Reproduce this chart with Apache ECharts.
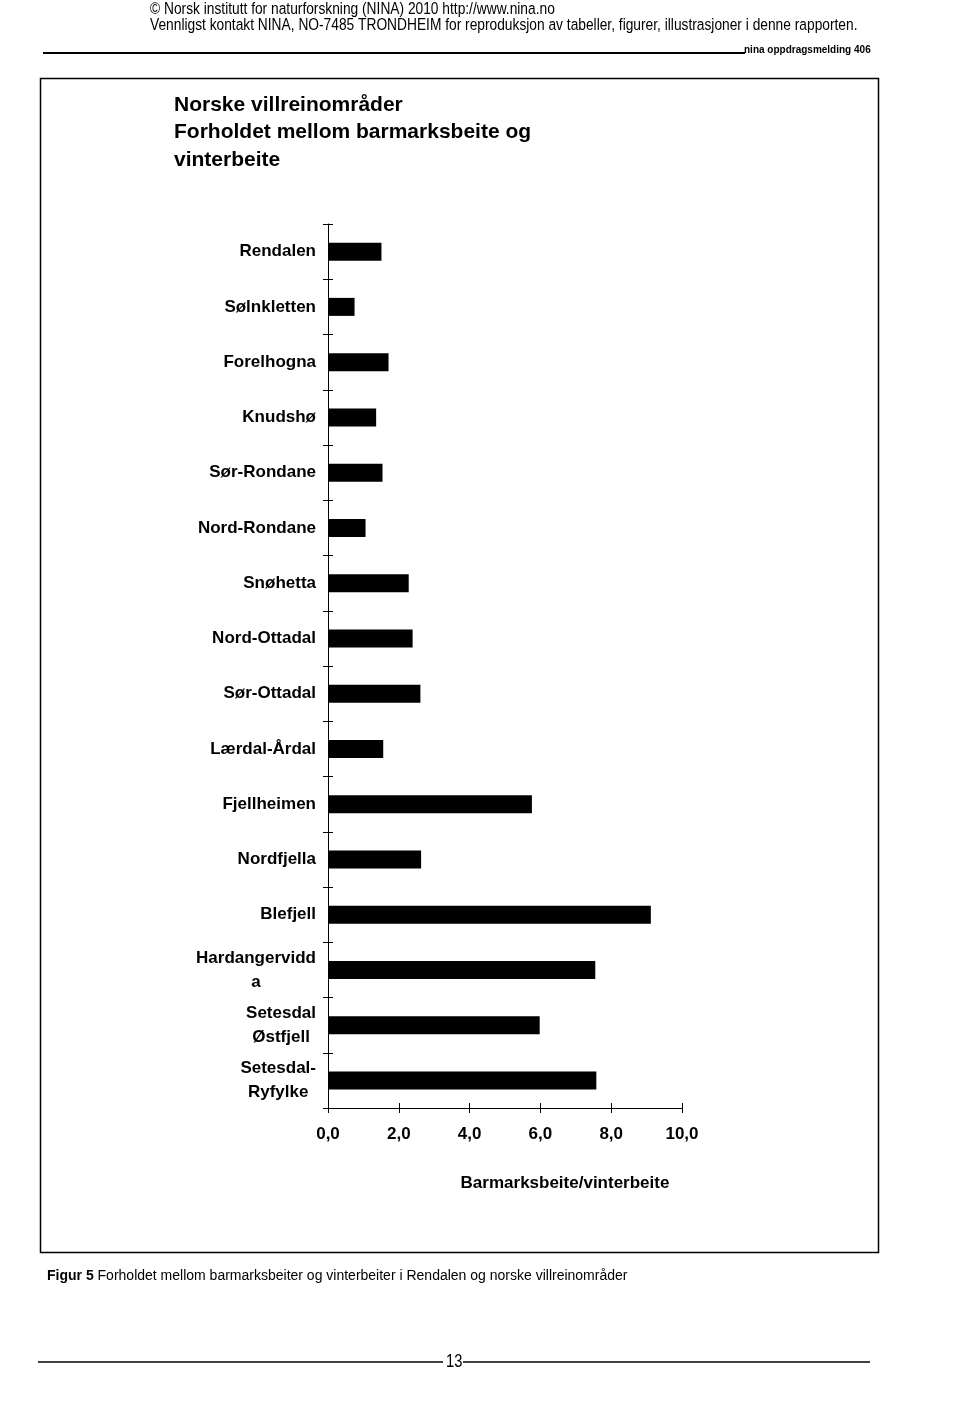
<!DOCTYPE html>
<html><head><meta charset="utf-8">
<script src="https://cdn.jsdelivr.net/npm/echarts@6/dist/echarts.min.js"></script>
<style>html,body{margin:0;padding:0;background:#fff}#c{width:960px;height:1407px}</style>
</head><body><div id="c"></div>
<script>
// Categories (as printed, with the original line breaks)
const categories = ['Rendalen','Sølnkletten','Forelhogna','Knudshø','Sør-Rondane','Nord-Rondane','Snøhetta','Nord-Ottadal','Sør-Ottadal','Lærdal-Årdal','Fjellheimen','Nordfjella','Blefjell','Hardangervidd\na','Setesdal\nØstfjell','Setesdal-\nRyfylke'];
// Barmarksbeite/vinterbeite ratio
const ratios = [1.51,0.75,1.71,1.36,1.54,1.06,2.28,2.39,2.61,1.56,5.76,2.63,9.12,7.55,5.98,7.58];
const xMin = 0, xMax = 10, xStep = 2;

const titleText = 'Norske villreinområder\nForholdet mellom barmarksbeite og\nvinterbeite';
const xName = 'Barmarksbeite/vinterbeite';
const header1 = '© Norsk institutt for naturforskning (NINA) 2010 http://www.nina.no';
const header2 = 'Vennligst kontakt NINA, NO-7485 TRONDHEIM for reproduksjon av tabeller, figurer, illustrasjoner i denne rapporten.';
const headerRight = 'nina oppdragsmelding 406';
const captionBold = 'Figur 5';
const captionText = ' Forholdet mellom barmarksbeiter og vinterbeiter i Rendalen og norske villreinområder';
const pageNo = '13';

const FONT = '"Liberation Sans", Arial, sans-serif';

const chart = echarts.init(document.getElementById('c'), null, {renderer: 'canvas'});

const catLabel = {
  show: true, margin: 12, color: '#000', fontFamily: FONT, fontWeight: 'bold', fontSize: 17,
  align: 'right',
  formatter: function (v) {
    if (v.indexOf('\n') < 0) return v;
    return v.split('\n').map(function (s) { return '{c|' + s + '}'; }).join('\n');
  },
  rich: { c: { align: 'center', color: '#000', fontFamily: FONT, fontWeight: 'bold', fontSize: 17, lineHeight: 24 } }
};

const option = {
  backgroundColor: '#fff',
  animation: false,
  title: {
    text: titleText, left: 174, top: 91, padding: 0,
    textStyle: { fontFamily: FONT, fontWeight: 'bold', fontSize: 21, lineHeight: 27.5, color: '#000' }
  },
  grid: { left: 328, right: 278, top: 224, bottom: 299, containLabel: false },
  xAxis: [{
    type: 'value', min: xMin, max: xMax, interval: xStep, position: 'bottom',
    name: xName, nameLocation: 'middle', nameGap: 67,
    nameTextStyle: { fontFamily: FONT, fontWeight: 'bold', fontSize: 17, color: '#000', padding: [0, 0, 0, 120] },
    axisLine: { show: true, lineStyle: { color: '#000', width: 1 } },
    axisTick: { show: true, inside: false, length: 5, lineStyle: { color: '#000' } },
    splitLine: { show: false },
    axisLabel: { margin: 18, color: '#000', fontFamily: FONT, fontWeight: 'bold', fontSize: 17,
      formatter: function (v) { return v.toFixed(1).replace('.', ','); } }
  }, {
    type: 'value', min: xMin, max: xMax, interval: xStep, position: 'bottom',
    axisLine: { show: false }, axisLabel: { show: false }, splitLine: { show: false },
    axisTick: { show: true, inside: true, length: 5, lineStyle: { color: '#000' } }
  }],
  yAxis: [{
    type: 'category', data: categories, inverse: true, position: 'left',
    axisLine: { show: true, lineStyle: { color: '#000', width: 1 } },
    axisTick: { show: true, inside: false, length: 5, lineStyle: { color: '#000' } },
    axisLabel: catLabel, splitLine: { show: false }
  }, {
    type: 'category', data: categories, inverse: true, position: 'left',
    axisLine: { show: false }, axisLabel: { show: false }, splitLine: { show: false },
    axisTick: { show: true, inside: true, length: 5, lineStyle: { color: '#000' } }
  }],
  series: [{
    type: 'bar', data: ratios, xAxisIndex: 0, yAxisIndex: 0, barWidth: 18,
    itemStyle: { color: '#000' }, silent: true
  }],
  graphic: [
    { type: 'text', x: 150, y: 1, scaleX: 0.82, style: { text: header1, font: '16.8px ' + FONT, fill: '#000', textVerticalAlign: 'top' } },
    { type: 'text', x: 150, y: 17, scaleX: 0.82, style: { text: header2, font: '16.8px ' + FONT, fill: '#000', textVerticalAlign: 'top' } },
    { type: 'line', shape: { x1: 43, y1: 53, x2: 745, y2: 53 }, style: { stroke: '#000', lineWidth: 2 } },
    { type: 'text', left: 744, top: 45, style: { text: headerRight, font: 'bold 10px ' + FONT, fill: '#000' } },
    { type: 'rect', shape: { x: 40.5, y: 78.5, width: 838, height: 1174 }, style: { fill: 'none', stroke: '#000', lineWidth: 1.5 } },
    { type: 'text', left: 47, top: 1269, style: {
        text: '{b|' + captionBold + '}{r|' + captionText + '}',
        rich: { b: { font: 'bold 14px ' + FONT, fill: '#000' }, r: { font: '14px ' + FONT, fill: '#000' } } } },
    { type: 'line', shape: { x1: 38, y1: 1362, x2: 443, y2: 1362 }, style: { stroke: '#000', lineWidth: 1.5 } },
    { type: 'line', shape: { x1: 463, y1: 1362, x2: 870, y2: 1362 }, style: { stroke: '#000', lineWidth: 1.5 } },
    { type: 'text', x: 446, y: 1353, scaleX: 0.82, style: { text: pageNo, font: '18px ' + FONT, fill: '#000', textVerticalAlign: 'top' } }
  ]
};
chart.setOption(option);
</script>
</body></html>
